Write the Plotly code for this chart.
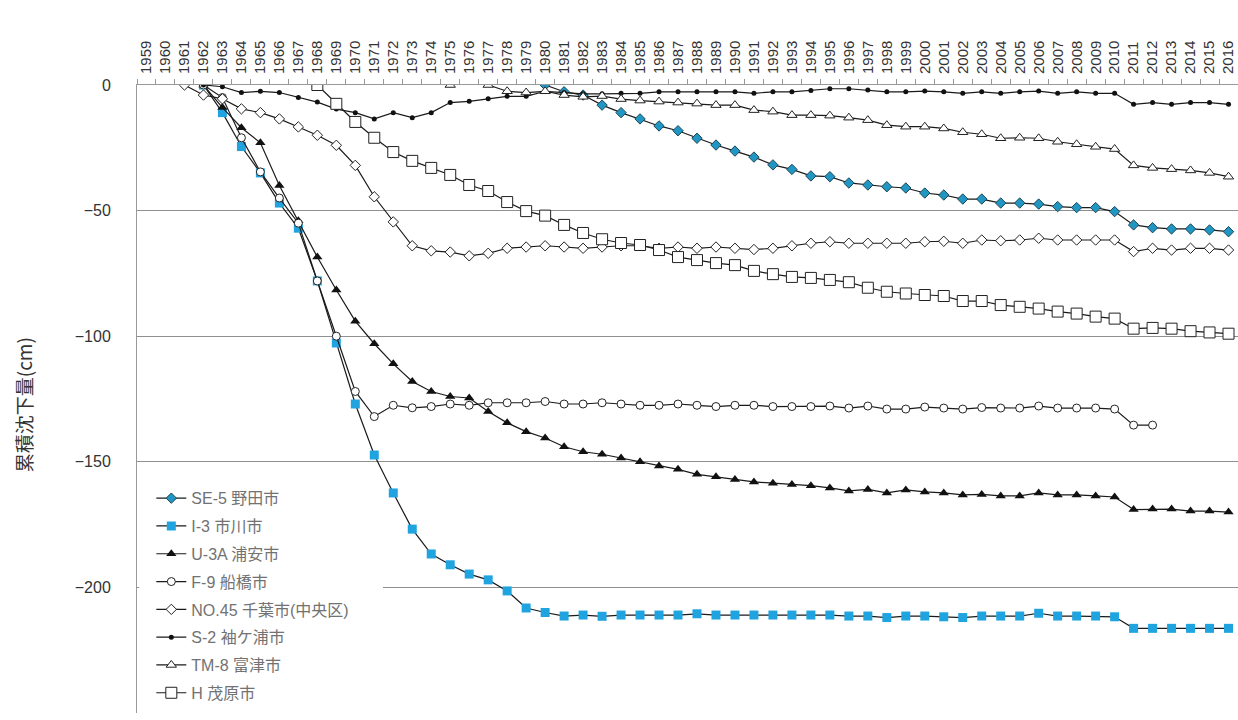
import plotly.graph_objects as go

years = [str(y) for y in range(1959, 2017)]

# series: start year + values (cm), None = no data
se5_start = 1980
se5_vals = [0, -2.7, -4, -8, -11, -13.5, -16.3, -18.2, -21.2, -23.9,
            -26.3, -28.7, -31.8, -33.6, -36.2, -36.5, -39, -39.8, -40.5, -41,
            -43, -43.8, -45.4, -45.4, -47, -47, -47.4, -48.4, -48.8, -48.8,
            -50.4, -55.7, -56.8, -57.3, -57.3, -57.7, -58.4]

i3_start = 1962
i3_vals = [0, -11, -24.5, -35, -47, -57, -78, -102.7, -127, -147.3,
           -162.4, -176.8, -186.7, -191, -194.7, -197, -201.4, -208.2, -210, -211.4,
           -211, -211.5, -211, -211, -211, -211, -210.5, -211, -211, -211,
           -211, -211, -211,
           -211, -211.4, -211.4, -212, -211.4, -211.4, -211.7, -212, -211.4, -211.4,
           -211.4, -210.3, -211.4, -211.4, -211.4, -211.7,
           -216.3, -216.3, -216.3, -216.3, -216.3, -216.3]

u3a_start = 1962
u3a_vals = [0, -9, -17, -23, -40, -54, -68.5, -81.6, -94, -103,
            -111, -118, -122, -124, -124.6, -130, -134.5, -138, -140.5, -144,
            -146, -147, -148.5, -150, -151.7, -153, -155, -156, -157, -158,
            -158.5, -159, -159.5, -160.4, -161.6, -161, -162.4, -161.2, -162, -162.4,
            -163.2, -163, -163.6, -163.6, -162.4, -163.2, -163.2, -163.6, -164, -169,
            -168.8, -168.8, -169.6, -169.6, -170]

f9_start = 1962
f9_vals = [0, -5, -21, -34.6, -45, -55, -78, -100, -122, -132,
           -127.5, -128.5, -128, -127, -127.5, -126.5, -126.5, -126.5, -126, -127,
           -127, -126.5, -127, -127.5, -127.5, -127, -127.5, -128, -127.5, -127.5,
           -128, -128, -128, -127.8, -128.6, -127.8, -129, -129, -128.2, -128.6,
           -129, -128.4, -128.6, -128.6, -127.8, -128.6, -128.6, -128.6, -129, -135.4,
           -135.4]

no45_start = 1961
no45_vals = [0, -4, -5.5, -9.5, -11, -13.5, -16.7, -20, -24, -32,
             -44.5, -54.5, -64, -66, -66.5, -68, -67, -65, -64.5, -64,
             -64.5, -65, -64.5, -64, -64, -65, -64.5, -65, -64.5, -65,
             -65.5, -65, -64, -63, -62.4, -63, -63, -63, -63, -62.4,
             -62.2, -63, -61.7, -62, -61.7, -61, -61.7, -61.7, -61.7, -61.7,
             -66.3, -65, -65.7, -65, -65, -65.7]

s2_start = 1962
s2_vals = [0, -0.7, -3, -2.5, -3, -5, -6.8, -9.6, -11, -13.5,
           -11, -13, -11, -7, -6.5, -5.5, -4.5, -4.5, -2.5, -3,
           -3.5, -3.5, -3.3, -3.3, -2.7, -2.7, -2.7, -2.7, -2.7, -3.3,
           -2.7, -2.7, -2.2, -1.5, -1.5, -2, -2.7, -2.7, -2.4, -2.7,
           -3.3, -2.7, -3.3, -2.7, -2.4, -3.3, -2.7, -3.3, -3.3, -7.7,
           -7, -7.7, -7, -7, -7.7]

tm8_start = 1975
tm8_vals = [0, None, 0, -2.5, -3, -2.5, -4, -4.7, -4.4, -5.6,
            -6.2, -6.6, -7, -7.4, -8, -8, -10, -10.6, -12, -12,
            -12.2, -13, -14, -16, -16.6, -16.6, -17.3, -18.8, -19.6, -21.2,
            -21, -21.2, -22.6, -23.6, -24.6, -25.5, -32, -33, -33.5, -34,
            -35, -36.5]

h_start = 1968
h_vals = [0, -7.5, -14.7, -21, -26.7, -30.2, -33, -35.8, -39.8, -42.2,
          -46.6, -50.2, -52, -55.7, -58.9, -61.4, -62.9, -63.7, -65.7, -68.5,
          -69.7, -70.9, -71.7, -74, -75.3, -76.4, -76.8, -77.6, -78.5, -80.7,
          -82.3, -83, -83.6, -84, -86, -86, -87.6, -88.3, -89, -90.2,
          -91, -92.2, -93, -97, -96.7, -97, -98, -98.5, -99]

names = ["SE-5 野田市", "I-3 市川市", "U-3A 浦安市", "F-9 船橋市",
         "NO.45 千葉市(中央区)", "S-2 袖ケ浦市", "TM-8 富津市", "H 茂原市"]

y_ticks = [0, -50, -100, -150, -200, -250]
y_tick_text = ["0", "\u221250", "\u2212100", "\u2212150", "\u2212200", "\u2212250"]

series = [
    (se5_start, se5_vals, dict(symbol="diamond", size=8, color="#2196c2", line=dict(color="#1d4757", width=1))),
    (i3_start, i3_vals, dict(symbol="square", size=9, color="#1fa4e0", line=dict(color="#1fa4e0", width=0))),
    (u3a_start, u3a_vals, dict(symbol="triangle-up", size=9, color="#111111", line=dict(width=0))),
    (f9_start, f9_vals, dict(symbol="circle", size=8, color="white", line=dict(color="#222222", width=1))),
    (no45_start, no45_vals, dict(symbol="diamond", size=8, color="white", line=dict(color="#222222", width=1))),
    (s2_start, s2_vals, dict(symbol="circle", size=5, color="#111111", line=dict(width=0))),
    (tm8_start, tm8_vals, dict(symbol="triangle-up", size=9, color="white", line=dict(color="#222222", width=1))),
    (h_start, h_vals, dict(symbol="square", size=11, color="white", line=dict(color="#222222", width=1))),
]

fig = go.Figure()
for i, ((start, vals, mk), name) in enumerate(zip(series, names)):
    xs = [str(start + k) for k in range(len(vals))]
    fig.add_trace(go.Scatter(
        x=xs, y=vals, name=name, mode="lines+markers",
        line=dict(color="#1a1a1a", width=1.2),
        marker=mk, legendgroup=f"g{i}", connectgaps=False,
    ))

fig.update_layout(
    width=1238, height=720,
    margin=dict(l=137, r=0, t=85, b=7),
    paper_bgcolor="white", plot_bgcolor="white",
    font=dict(family="Liberation Sans, Noto Sans CJK JP", size=12, color="#333333"),
    showlegend=True,
    legend=dict(x=0.013, y=0.369, xanchor="left", yanchor="top",
                bgcolor="rgba(255,255,255,0)", borderwidth=0, tracegroupgap=4,
                font=dict(family="Liberation Sans, Noto Sans CJK JP", size=16, color="#727272")),
    xaxis=dict(type="category", categoryorder="array", categoryarray=years,
               range=[-0.5, 57.5], side="top", tickangle=-90,
               tickmode="array", tickvals=years, ticktext=years,
               ticks="outside", tickson="boundaries", ticklen=5, tickcolor="#999999",
               ticklabelstandoff=7,
               showline=True, linecolor="#999999", linewidth=1,
               showgrid=False, zeroline=False,
               tickfont=dict(size=15, color="#333333")),
    yaxis=dict(range=[-250, 0], tickvals=y_ticks, ticktext=y_tick_text,
               showgrid=True, gridcolor="#8f8f8f", gridwidth=1,
               showline=True, linecolor="#999999", linewidth=1,
               zeroline=False, ticks="", ticklabelstandoff=22,
               tickfont=dict(size=16, color="#333333")),
    shapes=[dict(type="rect", xref="paper", yref="paper", layer="above",
                 x0=0.002, x1=(383 - 137) / 1101, y0=0.0, y1=(713 - 478) / 628,
                 fillcolor="white", line=dict(width=0))],
    annotations=[dict(text="累積沈下量(cm)", textangle=-90, xref="paper", yref="paper",
                      x=(23 - 137) / 1101, xanchor="center", y=0.49, showarrow=False,
                      font=dict(family="Noto Sans CJK JP", size=19, color="#333333"))],
)

fig.write_html("out.html")
